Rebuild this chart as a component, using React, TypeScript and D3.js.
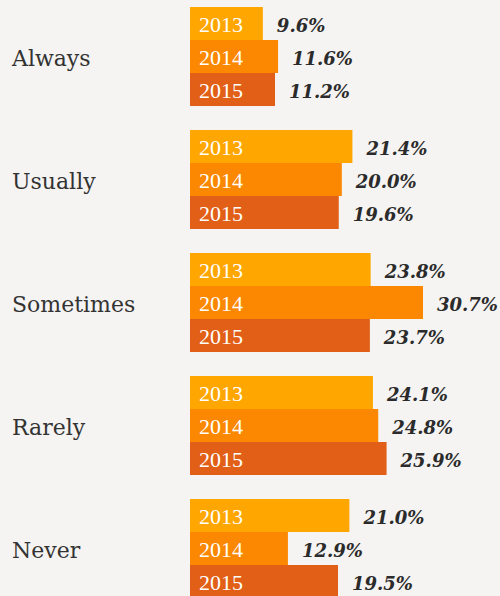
import { useEffect, useRef } from "react"
import * as d3 from "d3"

const categories = ["Always", "Usually", "Sometimes", "Rarely", "Never"]
const years = ["2013", "2014", "2015"]
const values2013 = [9.6, 21.4, 23.8, 24.1, 21.0]
const values2014 = [11.6, 20.0, 30.7, 24.8, 12.9]
const values2015 = [11.2, 19.6, 23.7, 25.9, 19.5]
const yearColors = ["#ffa600", "#fb8800", "#e15f16"]

export default function App() {
    const svgRef = useRef<SVGSVGElement | null>(null)

    useEffect(() => {
        if (!svgRef.current) return
        const svg = d3.select(svgRef.current)
        svg.selectAll("*").remove()

        const width = 500
        const height = 596
        const series = [values2013, values2014, values2015]

        const rows = categories.map((c, i) => ({
            category: c,
            bars: years.map((y, j) => ({ year: y, value: series[j][i], color: yearColors[j] })),
        }))

        svg.append("rect")
            .attr("width", width)
            .attr("height", height)
            .attr("fill", "#f5f4f2")

        // 5 groups of 99px with 24px gaps, starting at y=7
        const y0 = d3.scaleBand()
            .domain(categories)
            .range([7, 7 + 123 * categories.length - 24])
            .paddingInner(24 / 123)
            .paddingOuter(0)

        const y1 = d3.scaleBand()
            .domain(years)
            .range([0, y0.bandwidth()])

        const maxVal = d3.max(series.flat()) as number
        const x = d3.scaleLinear()
            .domain([0, maxVal])
            .range([190, 423])

        const groups = svg.selectAll(".group")
            .data(rows)
            .enter()
            .append("g")
            .attr("class", "group")
            .attr("transform", d => `translate(0,${y0(d.category)})`)

        groups.append("text")
            .attr("x", 12)
            .attr("y", y0.bandwidth() / 2 + 9)
            .style("font-family", "'DejaVu Serif', serif")
            .style("font-size", "22px")
            .style("fill", "#333")
            .text(d => d.category)

        const bars = groups.selectAll(".bar")
            .data(d => d.bars)
            .enter()
            .append("g")
            .attr("class", "bar")
            .attr("transform", d => `translate(0,${y1(d.year)})`)

        bars.append("rect")
            .attr("x", x(0))
            .attr("width", d => x(d.value) - x(0))
            .attr("height", y1.bandwidth())
            .attr("fill", d => d.color)

        bars.append("text")
            .attr("x", x(0) + 9)
            .attr("y", y1.bandwidth() / 2 + 8)
            .style("font-family", "'Liberation Serif', serif")
            .style("font-size", "22px")
            .style("fill", "#fff")
            .text(d => d.year)

        bars.append("text")
            .attr("x", d => x(d.value) + 14)
            .attr("y", y1.bandwidth() / 2 + 8.5)
            .style("font-family", "'DejaVu Serif', serif")
            .style("font-size", "18px")
            .style("font-weight", "bold")
            .style("font-style", "italic")
            .style("fill", "#2b2b2b")
            .text(d => `${d.value.toFixed(1)}%`)
    }, [])

    return (
        <svg
            ref={svgRef}
            width={500}
            height={596}
            style={{ position: "fixed", left: 0, top: 0, display: "block" }}
        />
    )
}
